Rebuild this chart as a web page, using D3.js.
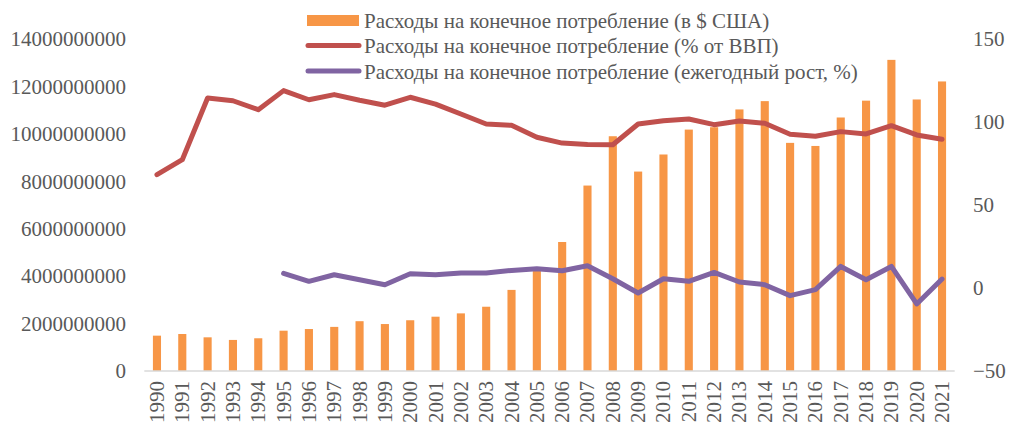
<!DOCTYPE html>
<html>
<head>
<meta charset="utf-8">
<script src="https://cdn.jsdelivr.net/npm/d3@7"></script>
<style>
html,body{margin:0;padding:0;background:#fff;}
</style>
</head>
<body>
<svg id="chart" width="1009" height="426"></svg>
<script>
const years = [1990,1991,1992,1993,1994,1995,1996,1997,1998,1999,2000,2001,2002,2003,2004,2005,2006,2007,2008,2009,2010,2011,2012,2013,2014,2015,2016,2017,2018,2019,2020,2021];
const spendingUSD = [1.49e9,1.56e9,1.42e9,1.31e9,1.38e9,1.70e9,1.77e9,1.86e9,2.10e9,1.98e9,2.14e9,2.29e9,2.43e9,2.71e9,3.42e9,4.36e9,5.44e9,7.82e9,9.90e9,8.41e9,9.13e9,10.18e9,10.28e9,11.03e9,11.38e9,9.62e9,9.49e9,10.69e9,11.40e9,13.12e9,11.45e9,12.21e9];
const spendingPctGDP = [68.3,77.3,114.5,112.8,107.4,118.9,113.4,116.5,113.1,110.1,114.9,110.8,104.8,98.8,98.0,90.8,87.3,86.4,86.3,98.8,100.8,101.8,98.4,100.6,99.2,92.6,91.4,94.2,92.8,97.8,92.2,89.6];
const spendingGrowth = [null,null,null,null,null,8.8,4.0,8.0,5.0,2.0,8.6,8.0,9.0,9.0,10.6,11.6,10.4,13.4,5.6,-3.0,5.6,4.0,9.4,3.6,2.0,-4.6,-1.0,13.0,5.0,13.0,-9.6,5.4];
const leftTicks = [0,2e9,4e9,6e9,8e9,10e9,12e9,14e9];
const rightTicks = [-50,0,50,100,150];
const seriesNames = ["Расходы на конечное потребление (в $ США)","Расходы на конечное потребление (% от ВВП)","Расходы на конечное потребление (ежегодный рост, %)"];
const colors = ["#F79646","#C0504D","#8064A2"];

const FONT = "'Liberation Serif', 'DejaVu Serif', serif";
const svg = d3.select("#chart");
const textColor = "#595959";
const fontSize = 21;

const x = d3.scaleBand().domain(years).range([144.3, 954.7]).paddingInner(0.68).paddingOuter(0.34);
const yL = d3.scaleLinear().domain([0, 14e9]).range([371, 39]);
const yR = d3.scaleLinear().domain([-50, 150]).range([371, 39]);

// bars
svg.append("g").selectAll("rect").data(years).join("rect")
  .attr("x", d => x(d))
  .attr("width", x.bandwidth())
  .attr("y", (d,i) => yL(spendingUSD[i]))
  .attr("height", (d,i) => yL(0) - yL(spendingUSD[i]))
  .attr("fill", colors[0]);

// category axis line
svg.append("line").attr("x1", 144.3).attr("x2", 954.7).attr("y1", 371).attr("y2", 371)
  .attr("stroke", "#d9d9d9").attr("stroke-width", 1.5);

// left axis
const gL = svg.append("g").attr("transform", "translate(126,0)")
  .call(d3.axisLeft(yL).tickValues(leftTicks).tickFormat(d3.format("d")).tickSize(0).tickPadding(0));
gL.attr("font-family", FONT).attr("font-size", fontSize);
gL.select(".domain").remove();
gL.selectAll("text").attr("fill", textColor);

// right axis
const gR = svg.append("g").attr("transform", "translate(973,0)")
  .call(d3.axisRight(yR).tickValues(rightTicks).tickFormat(d3.format("d")).tickSize(0).tickPadding(0));
gR.attr("font-family", FONT).attr("font-size", fontSize);
gR.select(".domain").remove();
gR.selectAll("text").attr("fill", textColor);

// x labels
svg.append("g").attr("font-family", FONT).selectAll("text").data(years).join("text")
  .attr("transform", d => `translate(${x(d) + x.bandwidth()/2},381) rotate(-90)`)
  .attr("text-anchor", "end")
  .attr("dominant-baseline", "central")
  .attr("font-size", fontSize)
  .attr("fill", textColor)
  .text(d => d);

// lines
const lineFn = (arr) => d3.line()
  .defined((d,i) => arr[i] !== null)
  .x(d => x(d) + x.bandwidth()/2)
  .y((d,i) => yR(arr[i]));

svg.append("path").datum(years).attr("d", lineFn(spendingPctGDP))
  .attr("fill", "none").attr("stroke", colors[1]).attr("stroke-width", 5)
  .attr("stroke-linejoin", "round").attr("stroke-linecap", "round");
svg.append("path").datum(years).attr("d", lineFn(spendingGrowth))
  .attr("fill", "none").attr("stroke", colors[2]).attr("stroke-width", 5)
  .attr("stroke-linejoin", "round").attr("stroke-linecap", "round");

// legend
const lg = svg.append("g").attr("font-family", FONT);
lg.append("rect").attr("x", 307).attr("y", 15).attr("width", 52).attr("height", 11).attr("fill", colors[0]);
lg.append("line").attr("x1", 308).attr("x2", 359).attr("y1", 45.5).attr("y2", 45.5)
  .attr("stroke", colors[1]).attr("stroke-width", 5).attr("stroke-linecap", "round");
lg.append("line").attr("x1", 308).attr("x2", 359).attr("y1", 71).attr("y2", 71)
  .attr("stroke", colors[2]).attr("stroke-width", 5).attr("stroke-linecap", "round");
lg.selectAll("text").data(seriesNames).join("text")
  .attr("x", 364).attr("y", (d,i) => 28 + i*25.3)
  .attr("font-size", fontSize).attr("fill", textColor)
  .text(d => d);
</script>
</body>
</html>
